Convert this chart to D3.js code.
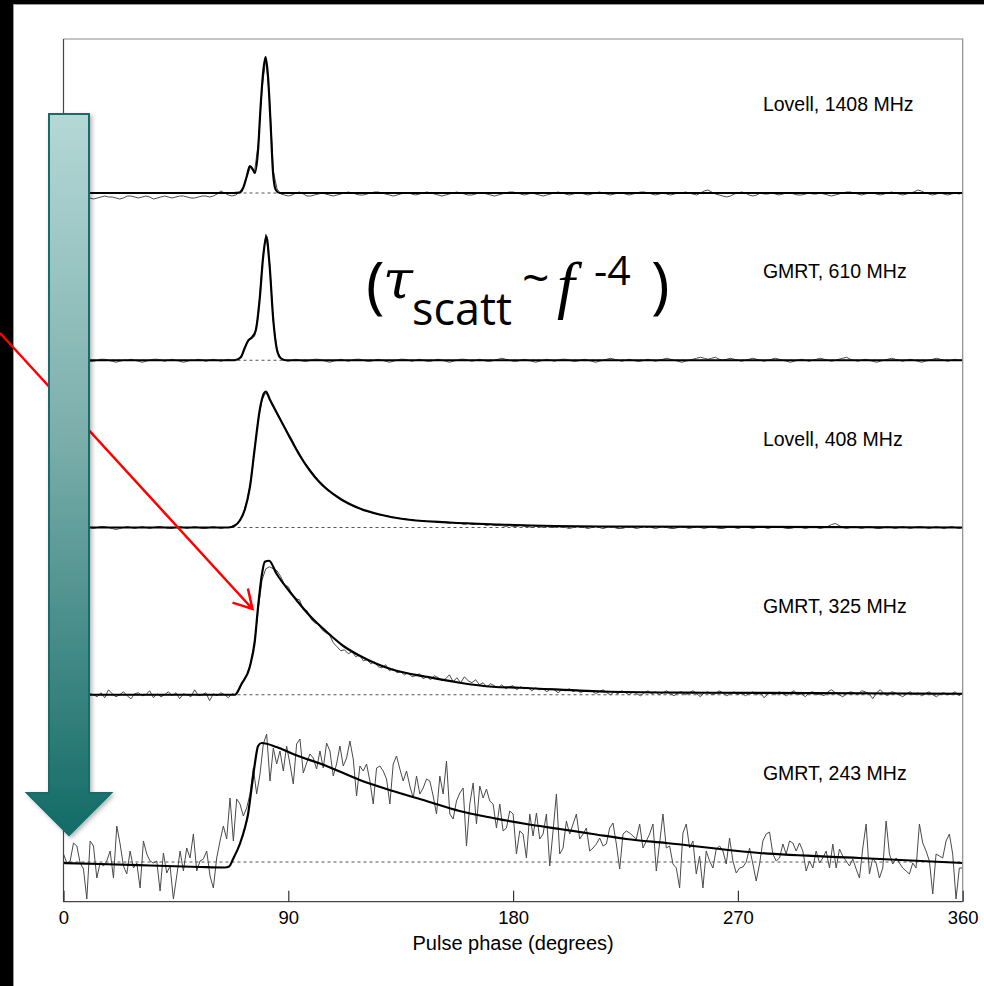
<!DOCTYPE html>
<html>
<head>
<meta charset="utf-8">
<script src="https://cdn.jsdelivr.net/npm/d3@7"></script>
<style>
  html, body { margin: 0; padding: 0; background: #000; }
  svg { display: block; }
</style>
</head>
<body>
<div id="chart-area"></div>
<script>
/*
*   scattering tails of one pulsar profile at five observing frequencies
*   profiles in arbitrary units (a.u.), phase in degrees
*/

// ---------------- DATA ----------------
const PANELS = ["Lovell, 1408 MHz", "GMRT, 610 MHz", "Lovell, 408 MHz", "GMRT, 325 MHz", "GMRT, 243 MHz"]
const PHASE_TICKS = [0, 90, 180, 270, 360]

// observed profiles, evenly sampled over 0..360 deg
const obs1408 = [-2,-3,-4,-5,-4,-3,-4,-5,-6,-5, -4,-3,-4,-4,-5,-6,-5,-3,-3,-4, -5,-4,-3,-4,-6,-5,-4,-3,-4,-5,
  -4,-3,-3,-4,-5,-5,-4,-3,-3,-4, -3,-1,2,0,-2,-3,
  -2,1,6,17,27,22,50,105,134,94,22,4,-1,-2,-3,-2,0,1,-1,-3,-3,-2,
  -1,0,-1,-2,-3,-2,-1,0,1,0, -1,-2,-2,-1,0,1,1,0,-1,-2, -3,-2,-1,0,0,-1,-2,-1,0,1, 0,-1,
  -2,-3,-2,-1,0,1,0,-1,-2,-2, -1,0,0,-1,-2,-3,-2,-1,0,1, 1,0,-1,-2,-1,0,-1,-2,-3,-2, -1,0,1,0,-1,-2,-1,0,0,-1,
  -2,-1,0,1,0,-1,-2,-1,0,0, -1,-2,-1,0,1,1,0,-1,-2,-1, 0,-1,-2,-1,0,0,1,0,-1,-2, 0,2,3,1,-1,-2,-3,-4,-3,-1,
  0,1,0,-2,-3,-2,0,-1,-1,0, -1,-2,-1,0,0,-1,-2,-2,-1,0, -1,-1,0,-1,-2,-3,-2,-1,0,1, 1,0,-1,-2,-1,0,0,-1,-2,-1,
  0,1,0,-1,-2,-1,0,1,3,2, 0,-1,-2,-1,0,-1,-2,-1,0,-1, 0]

const obs610 = [0,-1,-2,-1,0,1,0,-1,-1,0, 1,1,0,-1,-2,-1,0,0,1,0, -1,-2,-1,0,1,1,0,-1,0,1, 0,-1,-2,-1,0,0,1,0,-1,0, 1,0,-1,0,1,
  0,1,2,8,17,22,24,45,95,126,98,38,10,2,0,
  -1,0,1,0,-1,-1,0,1,1,0, -1,-2,-1,0,1,0,-1,0,1,1, 0,-1,-1,0,1,0,-1,-2,-1,0, 1,1,0,-1,0,1,0,-1,-1,0,
  1,0,-1,-2,-1,0,1,1,0,-1, 0,1,0,-1,-1,0,1,2,1,0, -1,-1,0,1,0,-1,-2,-1,0,1, 0,-1,0,1,1,0,-1,-1,0,1,
  0,-1,-2,-1,0,1,2,1,0,-1, 0,1,0,-1,-1,0,1,0,-1,0, 1,2,1,0,-1,-2,-1,0,1,2, 3,2,1,2,3,1,0,1,2,1,
  0,-1,0,1,2,1,0,-1,0,1, 2,1,0,-1,-2,-1,0,1,0,-1, 0,1,2,1,0,-1,0,1,2,3, 1,0,-1,0,1,0,-1,-2,-1,0,
  1,2,1,0,-1,0,1,0,-1,-2, -1,0,1,2,1,0,-1,0,1,0, 0]

const obs408 = [0,1,0,-1,-1,0,1,0,-1,0, 1,1,0,-1,-2,-1,0,1,0,-1, 0,1,0,-1,0,1,1,0,-1,-1, 0,1,0,-1,0,1,0,-1,-1,0, 1,0,-1,0,
  0,1,3,7,14,27,46,78,108,128,135,129,122,113,107,100,94,88,80,74,67,62,57,52,47,44,40,37,33,31,28,26,24,22,20,19,17,
  16,15,14,13,12,12,11,10,10,9,
  9,8,8,7,7,7,6,6,6,5, 5,5,4,5,4,4,3,4,3,3,
  3,3,2,3,2,2,2,1,2,1, 1,2,1,1,0,1,1,0,1,0, 0,1,0,0,-1,0,1,0,0,-1,
  0,1,0,-1,0,1,0,-1,-1,0, 1,0,-1,0,1,1,0,-1,0,1, 0,-1,-1,0,1,0,-1,0,1,0, -1,0,1,0,-1,-1,0,1,0,-1,
  0,1,0,-1,0,1,0,-1,0,1, 1,0,-1,-1,0,1,0,-1,0,1, 0,-1,0,1,3,4,2,0,-1,0, 1,0,-1,0,1,0,-1,-1,0,1,
  0,-1,0,1,0,-1,0,1,1,0, -1,0,1,0,-1,0,1,0,-1,0]

const obs325 = [2,-1,1,-2,0,3,-1,1,0,-2, 2,-3,5,1,-2,0,3,-1,-4,1, 2,-1,0,4,-3,1,-2,0,3,-1, 2,-4,1,0,-2,5,-1,0,2,-6, 1,-1,2,0,-3,1,
  0,6,14,20,32,52,86,115,126,128,126,124,118,110,108,100,96,95,85,84,76,72,71,65,62,60,52,48,44,45,41,43,38,40,34,35,31,33,28,27,30,24,26,22,23,
  20,22,18,19,21,16,18,15,19,17, 14,16,20,13,17,12,18,14,12,15,
  10,12,8,11,9,7,10,6,8,9, 5,8,6,7,4,7,5,6,3,6, 5,2,5,4,6,3,5,2,4,3,
  4,1,3,5,2,0,3,1,4,2, 0,3,1,-1,2,4,1,3,0,2, 4,1,-1,2,3,0,2,4,1,-2, 2,3,0,1,4,2,-1,1,3,0,
  2,-1,1,3,0,2,-3,1,2,0, 3,1,-1,2,4,0,1,-2,2,3, 0,1,-1,3,5,2,0,-2,1,3, 2,0,4,3,1,-4,2,5,1,-1,
  3,2,0,-2,1,3,0,2,-1,1, 3,0,-2,1,2,0,1,3,-1,2]

const obs243 = [8,-1,1,19,16,-1,-7,-37,21,16, -16,-1,-4,1,11,-16,36,18,-4,-12, 11,-6,-1,-26,21,8,1,-1,1,-29,
  9,-11,-4,-37,-14,11,-9,14,4,28, -9,1,3,11,-14,-26,4,21,36,23, 64,21,63,58,46,54,68,94,68,88,
  118,128,81,114,98,111,91,116,98,78, 118,123,89,99,108,104,93,111,94,119, 111,86,98,116,96,104,121,103,66,96,
  91,98,81,58,94,96,91,83,58,98, 106,93,81,91,76,64,86,68,74,83, 81,66,48,86,68,101,48,43,61,69,
  74,16,58,79,38,76,64,73,61,58, 34,58,31,34,51,48,8,31,28,4, 48,26,49,23,28,48,-4,31,68,8,
  14,41,28,38,48,23,28,34,11,14, 18,24,16,18,34,39,18,-7,28,31, 29,26,23,38,14,21,28,38,-9,19, 48,14,
  16,-2,-6,-26,29,38,14,21,-12,6, -26,11,1,-6,13,16,11,-2,24,1, -11,-6,-5,0,14,-2,-19,-2,21,28,
  30,8,1,4,18,8,21,19,11,19, 11,-9,1,-6,11,-1,4,11,-6,18, -6,13,6,1,-4,3,-7,-16,14,38,
  -12,4,-1,-16,-6,41,8,-2,4,-1, -6,-9,-12,-1,-6,38,19,11,1,-32, 8,6,4,21,28,8,-37,-6,-6]

// fitted scatter-broadened models (phase, a.u.)
const fitPhase1408 = [0, 68, 70.6, 71.9, 73.3, 74.6, 75.9, 76.6, 77.9, 78.9, 79.9, 80.9, 81.9, 82.9, 83.9, 85, 86.6, 360]
const fit1408      = [0, 0, 0.5, 5, 16, 27, 23, 20, 43, 86, 120, 136, 116, 70, 20, 3, 0, 0]

const fitPhase610 = [0, 68.6, 71, 72.5, 74, 75.5, 77, 78.5, 80, 81.2, 82.5, 84, 85.5, 87, 89, 360]
const fit610      = [0, 0, 3, 12, 20, 23, 30, 60, 105, 124, 95, 40, 10, 2, 0, 0]

const fitPhase408 = [0, 66, 68.6, 70.6, 72.6, 74.6, 76.6, 78.6, 80.2, 81, 82.6, 86.6, 90.6, 94.6, 98.6, 102.6,
  110.6, 118.6, 126.6, 134.6, 154.6, 174.6, 214.6, 360]
const fit408      = [0, 0, 2, 7, 18, 40, 80, 118, 134, 136, 128, 109, 90, 72, 57, 45, 29, 19, 13, 9, 5, 3, 1, 0]

const fitPhase325 = [0, 68.6, 71.3, 74.6, 76.6, 77.9, 79.3, 80.6, 82.3, 85.3, 91.9, 98.6, 105.3, 111.9, 118.6,
  125.3, 131.9, 145.3, 158.6, 171.8, 182.6, 218.6, 258.6, 360]
const fit325      = [0, 0, 11, 28, 54, 88, 118, 133, 134, 121, 99, 79, 63, 49, 39, 31, 25, 18, 12, 8, 7, 3, 2, 1]

const fitPhase243 = [0, 14.6, 34.6, 54.6, 64.6, 66.3, 67.9, 70.6, 72.6, 73.9, 75.3, 76.6, 77.9, 79.3, 85.3, 91.9,
  105.3, 118.6, 131.9, 145.3, 158.6, 171.9, 185.3, 198.6, 211.9, 225.3, 241.3, 278.6, 318.6, 360]
const fit243      = [-1, -2, -3.5, -5, -5.5, -4.5, 3, 18, 34, 48, 74, 98, 116, 119, 115, 108, 96, 82, 71, 61,
  51, 44, 38, 33, 28, 23, 19, 9, 4, -1]

// ---------------- LAYOUT ----------------
const W = 984, H = 986
const PLOT = {LEFT: 63.5, TOP: 39, RIGHT: 962.7, BOTTOM: 901.7}
const PANEL_H = 135   // px for one full a.u. range (0..135)
const SANS = "'Liberation Sans', Arial, sans-serif"

const svg = d3.select("#chart-area").append("svg")
    .attr("width", W)
    .attr("height", H)

const defs = svg.append("defs")

// white slide behind the figure
svg.append("rect")
    .attr("x", 13.5).attr("y", 4.5)
    .attr("width", W).attr("height", H)
    .attr("fill", "#fff")
    .attr("stroke", "#9a9a9a")

// ---------------- SCALES ----------------
const x = d3.scaleLinear().domain([0, 360]).range([PLOT.LEFT, PLOT.RIGHT])
const baseY = d3.scalePoint().domain(PANELS).range([193, 862])

defs.append("clipPath").attr("id", "plot-clip")
  .append("rect")
    .attr("x", PLOT.LEFT).attr("y", PLOT.TOP)
    .attr("width", PLOT.RIGHT - PLOT.LEFT).attr("height", PLOT.BOTTOM - PLOT.TOP)

const profiles = [
  {name: PANELS[0], obs: obs1408, fitPhase: fitPhase1408, fit: fit1408},
  {name: PANELS[1], obs: obs610,  fitPhase: fitPhase610,  fit: fit610},
  {name: PANELS[2], obs: obs408,  fitPhase: fitPhase408,  fit: fit408},
  {name: PANELS[3], obs: obs325,  fitPhase: fitPhase325,  fit: fit325},
  {name: PANELS[4], obs: obs243,  fitPhase: fitPhase243,  fit: fit243}
]

const g = svg.append("g").attr("clip-path", "url(#plot-clip)")

profiles.forEach(p => {
    const y = d3.scaleLinear().domain([0, 135]).range([baseY(p.name), baseY(p.name) - PANEL_H])
    const step = 360 / (p.obs.length - 1)
    const line = d3.line().x(d => x(d[0])).y(d => y(d[1]))

    // --- + zero level
    g.append("line")
        .attr("x1", x(0)).attr("x2", x(360))
        .attr("y1", y(0)).attr("y2", y(0))
        .attr("stroke", "#555")
        .attr("stroke-width", 1)
        .attr("stroke-dasharray", "3,3")

    // --- + observed profile
    g.append("path")
        .datum(p.obs.map((v, i) => [i * step, v]))
        .attr("fill", "none")
        .attr("stroke", "#4a4a4a")
        .attr("stroke-width", 1)
        .attr("d", line)

    // --- + fitted model
    g.append("path")
        .datum(p.fitPhase.map((ph, i) => [ph, p.fit[i]]))
        .attr("fill", "none")
        .attr("stroke", "#000")
        .attr("stroke-width", 2.2)
        .attr("d", line.curve(d3.curveMonotoneX))

    // --- + label
    svg.append("text")
        .attr("x", x(280))
        .attr("y", y(0) - 82)
        .attr("font-family", SANS)
        .attr("font-size", "19.5px")
        .attr("fill", "#000")
        .text(p.name)
})

// ---------------- FRAME + AXIS ----------------
svg.append("path")
    .attr("d", `M${PLOT.LEFT},${PLOT.TOP}H${PLOT.RIGHT}V${PLOT.BOTTOM}`)
    .attr("fill", "none").attr("stroke", "#8c8c8c").attr("stroke-width", 1.2)
svg.append("path")
    .attr("d", `M${PLOT.LEFT},${PLOT.TOP}V${PLOT.BOTTOM}H${PLOT.RIGHT}`)
    .attr("fill", "none").attr("stroke", "#444").attr("stroke-width", 1.2)

const xAxisCall = d3.axisBottom(x)
    .tickValues(PHASE_TICKS)
    .tickSize(-11)
    .tickPadding(9)
const xAxis = svg.append("g")
    .attr("transform", `translate(0, ${PLOT.BOTTOM})`)
    .call(xAxisCall)
xAxis.select(".domain").remove()
xAxis.selectAll("line").attr("stroke", "#333").attr("stroke-width", 1.2)
xAxis.selectAll("text")
    .attr("font-family", SANS)
    .attr("font-size", "18.5px")
    .attr("fill", "#000")

svg.append("text")
    .attr("x", (PLOT.LEFT + PLOT.RIGHT) / 2)
    .attr("y", 950)
    .attr("text-anchor", "middle")
    .attr("font-family", SANS)
    .attr("font-size", "20px")
    .attr("fill", "#000")
    .text("Pulse phase (degrees)")

// ---------------- ANNOTATIONS ----------------
// red pointer to the rising edge
const tip = [252.5, 609], tail = [0, 333]
const ang = Math.atan2(tip[1] - tail[1], tip[0] - tail[0])
const arm = a => [tip[0] - 21 * Math.cos(ang + a), tip[1] - 21 * Math.sin(ang + a)]
svg.append("path")
    .attr("d", `M${tail}L${tip}M${arm(0.52)}L${tip}L${arm(-0.52)}`)
    .attr("fill", "none")
    .attr("stroke", "#ff0000")
    .attr("stroke-width", 2.5)

// big gradient arrow (frequency decreasing downwards)
const grad = defs.append("linearGradient").attr("id", "arrow-grad")
    .attr("x1", 0).attr("y1", 0).attr("x2", 0).attr("y2", 1)
grad.append("stop").attr("offset", "0%").attr("stop-color", "#b4d8d6")
grad.append("stop").attr("offset", "45%").attr("stop-color", "#7aaeab")
grad.append("stop").attr("offset", "100%").attr("stop-color", "#136b67")

const shadow = defs.append("filter").attr("id", "shadow")
    .attr("x", "-30%").attr("y", "-5%").attr("width", "160%").attr("height", "115%")
shadow.append("feDropShadow")
    .attr("dx", 2).attr("dy", 2).attr("stdDeviation", 2)
    .attr("flood-color", "#000").attr("flood-opacity", 0.3)

svg.append("path")
    .attr("d", "M49,114H89V793H111L69,835L27,793H49Z")
    .attr("fill", "url(#arrow-grad)")
    .attr("stroke", "#146c68")
    .attr("stroke-width", 2)
    .attr("filter", "url(#shadow)")

// scattering-time scaling
const formula = svg.append("text").attr("fill", "#000")
formula.append("tspan").attr("x", 366).attr("y", 307)
    .attr("font-family", "'Open Sans', sans-serif").attr("font-size", "63px").text("(")
formula.append("tspan").attr("x", 383).attr("y", 298)
    .attr("font-family", "'DejaVu Serif', serif").attr("font-style", "italic")
    .attr("font-size", "54px").text("τ")
formula.append("tspan").attr("x", 412).attr("y", 325)
    .attr("font-family", "'Open Sans', sans-serif").attr("font-size", "45px").text("scatt")
formula.append("tspan").attr("x", 522).attr("y", 295)
    .attr("font-family", "'Open Sans', sans-serif").attr("font-size", "48px").text("~")
formula.append("tspan").attr("x", 557).attr("y", 306)
    .attr("font-family", "'Liberation Serif', serif").attr("font-style", "italic")
    .attr("font-size", "64px").text("f")
formula.append("tspan").attr("x", 594).attr("y", 285)
    .attr("font-family", "'Open Sans', sans-serif").attr("font-size", "41px").text("-4")
formula.append("tspan").attr("x", 651).attr("y", 307)
    .attr("font-family", "'Open Sans', sans-serif").attr("font-size", "63px").text(")")
</script>
</body>
</html>
